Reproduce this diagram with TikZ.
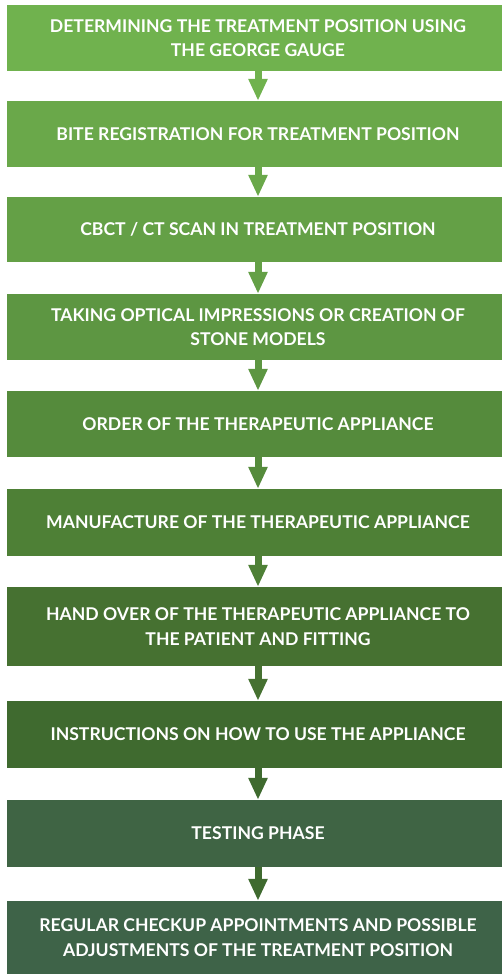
\documentclass[tikz,border=0pt]{standalone}
\usepackage{fontspec}
\setmainfont{Lato}
\usetikzlibrary{arrows.meta}
\definecolor{stepa}{HTML}{70B24E}
\definecolor{stepb}{HTML}{6AA84A}
\definecolor{stepc}{HTML}{64A046}
\definecolor{stepd}{HTML}{5D9642}
\definecolor{stepe}{HTML}{558B3C}
\definecolor{stepf}{HTML}{4E8036}
\definecolor{stepg}{HTML}{467131}
\definecolor{steph}{HTML}{3F6A2F}
\definecolor{stepi}{HTML}{3F6444}
\definecolor{stepj}{HTML}{3E6348}
\begin{document}
\begin{tikzpicture}
  [x=1pt,y=-1pt,
   phase/.style={fill=#1,text=white,minimum width=502pt,inner sep=0pt,align=center,
     font=\fontsize{17.6}{24.5}\selectfont\bfseries},
   flow/.style={draw=#1,line width=7pt,-{Triangle[width=18pt,length=22pt]}}]

  \useasboundingbox (0,0) rectangle (502,974);

  \node[phase=stepa,minimum height=66pt] (gauge) at (258,38) {DETERMINING THE TREATMENT POSITION USING\\THE GEORGE GAUGE};
  \node[phase=stepb,minimum height=66pt] (bite) at (258,134) {BITE REGISTRATION FOR TREATMENT POSITION};
  \node[phase=stepc,minimum height=65pt] (scan) at (258,229.5) {CBCT / CT SCAN IN TREATMENT POSITION};
  \node[phase=stepd,minimum height=66pt] (impr) at (258,327) {TAKING OPTICAL IMPRESSIONS OR CREATION OF\\STONE MODELS};
  \node[phase=stepe,minimum height=66pt] (order) at (258,424) {ORDER OF THE THERAPEUTIC APPLIANCE};
  \node[phase=stepf,minimum height=67pt] (manuf) at (258,522.5) {MANUFACTURE OF THE THERAPEUTIC APPLIANCE};
  \node[phase=stepg,minimum height=79pt] (hand) at (258,626.5) {HAND OVER OF THE THERAPEUTIC APPLIANCE TO\\THE PATIENT AND FITTING};
  \node[phase=steph,minimum height=67pt] (instr) at (258,734.5) {INSTRUCTIONS ON HOW TO USE THE APPLIANCE};
  \node[phase=stepi,minimum height=67pt] (test) at (258,833.5) {TESTING PHASE};
  \node[phase=stepj,minimum height=73pt] (check) at (258,937.5) {REGULAR CHECKUP APPOINTMENTS AND POSSIBLE\\ADJUSTMENTS OF THE TREATMENT POSITION};

  \draw[flow=stepa] (gauge) -- (bite);
  \draw[flow=stepb] (bite) -- (scan);
  \draw[flow=stepc] (scan) -- (impr);
  \draw[flow=stepd] (impr) -- (order);
  \draw[flow=stepe] (order) -- (manuf);
  \draw[flow=stepf] (manuf) -- (hand);
  \draw[flow=stepg] (hand) -- (instr);
  \draw[flow=steph] (instr) -- (test);
  \draw[flow=steph] (test) -- (check);

\end{tikzpicture}
\end{document}
